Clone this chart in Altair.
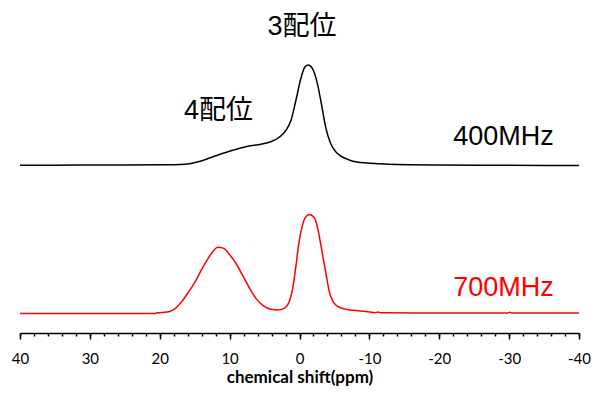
import altair as alt
import pandas as pd

# 400MHz spectrum (black), intensity relative to its own baseline
black_ppm = [40, 35, 30, 25, 20, 17, 16, 14.5, 12.1, 9.8, 7.4, 5.5, 4.1, 2.9, 1.9, 1.2, 0.5,
             -0.2, -0.75, -1.23, -1.84, -2.55, -3.12, -3.73, -4.44, -5.4, -6.8, -8.2,
             -11.5, -13.9, -20, -30, -40]
black_int = [-0.3, -0.2, 0, 0, 0.2, 0.5, 1, 3.3, 9.1, 14.4, 19, 21, 23.5, 28, 35.4, 45.5, 65.7,
             87.6, 98.7, 101, 97.6, 82.5, 62.3, 38.7, 21.9, 11.8, 6, 3,
             1.2, 0.5, 0, -0.3, -0.5]
black_offset = 149.5

# 700MHz spectrum (red)
red_ppm = [40, 30, 20.6, 20.4, 20.1, 18.7, 17.8, 16.8, 15.9, 14.9, 14.0, 13.0, 12.3, 11.7,
           10.9, 10.0, 9.0, 8.1, 7.1, 6.2, 5.2, 4.1, 3.1, 2.2, 1.4, 0.9, 0.5, 0.1, -0.4,
           -0.8, -1.4, -2.1, -2.6, -3.0, -3.7, -4.4, -5.4, -6.8, -8.2, -10.1, -10.8, -11.2,
           -11.6, -12.5, -20, -29.8, -30.1, -30.4, -40]
red_int = [-0.5, -0.5, -0.5, 0.2, 0.3, 1.3, 4.5, 12, 21, 32, 44, 56, 63, 66.5,
           65.5, 59, 49, 37.5, 24.5, 14.5, 7.5, 3.8, 3.0, 4.7, 13, 28, 48, 70, 88,
           96, 99.5, 96.5, 86, 71, 43, 18, 7, 3.5, 2.5, 1, 0.2, 1.0,
           0.3, 0.2, 0, 0, 0.8, 0, 0]

# annotations
label_text = ["3配位", "4配位", "400MHz", "700MHz"]
label_ppm = [-0.35, 11.6, -29.2, -29.2]
label_int = [289.4, 204.0, 177.8, 25.3]
label_color = ["black", "black", "black", "red"]

major_ticks = list(range(-40, 41, 10))
minor_ticks = list(range(-40, 41, 2))

black_df = pd.DataFrame({"ppm": black_ppm, "intensity": black_int})
red_df = pd.DataFrame({"ppm": red_ppm, "intensity": red_int})
label_df = pd.DataFrame({"text": label_text, "ppm": label_ppm, "intensity": label_int,
                         "color": label_color})

x_scale = alt.Scale(domain=[-40, 40], reverse=True, nice=False, zero=False)
y_scale = alt.Scale(domain=[-20.2, 308.1], nice=False, zero=False)

major_axis = alt.Axis(
    title="chemical shift(ppm)",
    orient="bottom",
    values=major_ticks,
    labelExpr="toString(datum.value)",
    tickSize=6,
    grid=False,
    domainColor="black",
    domainWidth=1.5,
    tickColor="black",
    tickWidth=1.5,
    labelFont="Lato",
    labelFontSize=15,
    labelColor="black",
    labelPadding=12,
    labelFlush=False,
    labelOverlap=False,
    titleFont="Lato",
    titleFontSize=17,
    titleFontWeight="bold",
    titleColor="black",
    titlePadding=3,
)

minor_axis = alt.Axis(
    title=None,
    orient="bottom",
    values=minor_ticks,
    labels=False,
    domain=False,
    tickSize=3,
    tickColor="black",
    tickWidth=1.5,
    grid=False,
)

black_line = alt.Chart(black_df).transform_calculate(
    y=f"datum.intensity + {black_offset}"
).mark_line(color="black", strokeWidth=1.5, interpolate="monotone").encode(
    x=alt.X("ppm:Q", scale=x_scale, axis=major_axis),
    y=alt.Y("y:Q", scale=y_scale, axis=None),
    order="ppm:Q",
)

red_line = alt.Chart(red_df).mark_line(
    color="#ff0000", strokeWidth=1.5, interpolate="monotone"
).encode(
    x=alt.X("ppm:Q", scale=x_scale, axis=minor_axis),
    y=alt.Y("intensity:Q", scale=y_scale, axis=None),
    order="ppm:Q",
)

labels = alt.Chart(label_df).mark_text(
    font="Liberation Sans, Noto Sans CJK JP", fontSize=27, align="center", baseline="middle"
).encode(
    x=alt.X("ppm:Q", scale=x_scale, axis=None),
    y=alt.Y("intensity:Q", scale=y_scale, axis=None),
    text="text:N",
    color=alt.Color("color:N", scale=None),
)

chart = alt.layer(black_line, red_line, labels).resolve_axis(x="independent").properties(
    width=559,
    height=325,
    padding={"left": 12, "top": 0, "right": 12, "bottom": 55},
    autosize=alt.AutoSizeParams(type="none"),
).configure_view(stroke=None)

chart.save("out.html", embed_options={"renderer": "svg", "actions": False})
